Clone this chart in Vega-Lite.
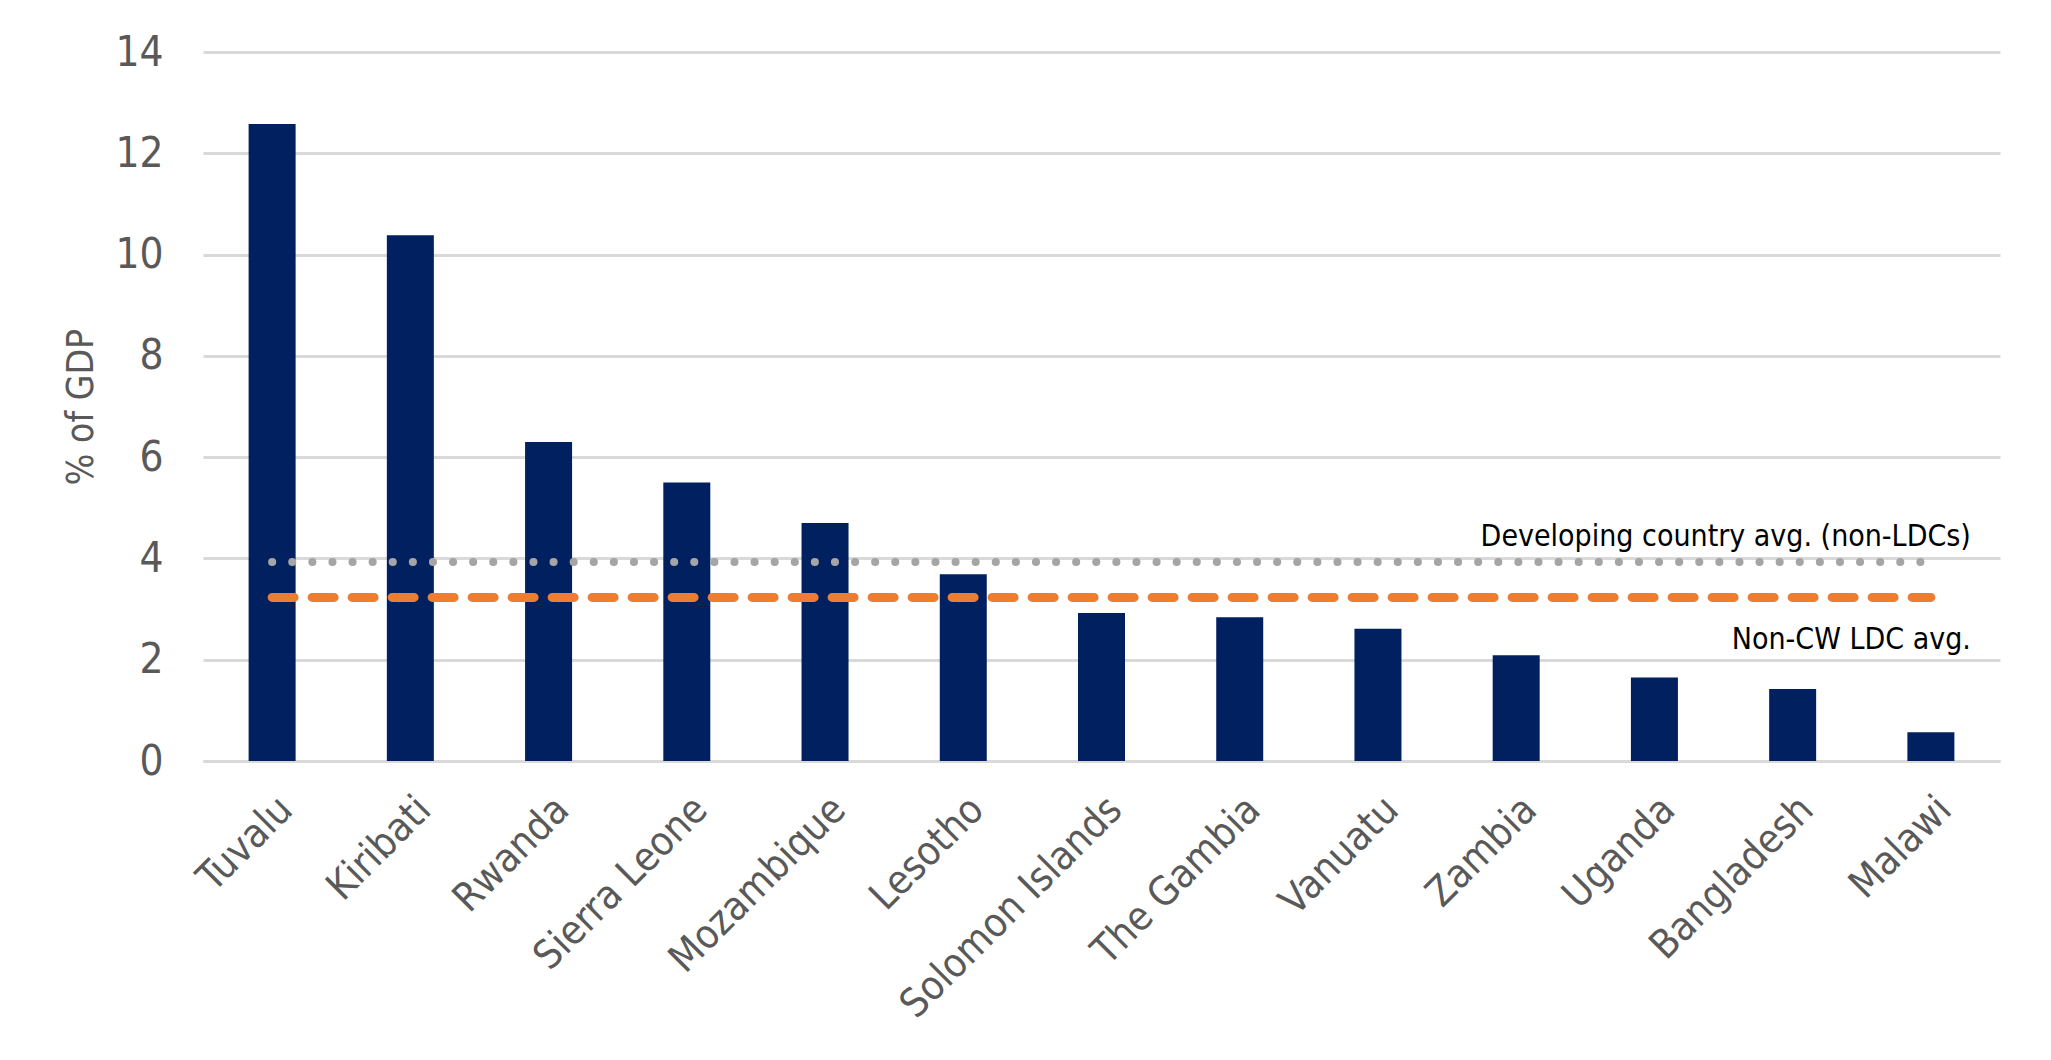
{
  "$schema": "https://vega.github.io/schema/vega-lite/v6.json",
  "width": 1797,
  "height": 709,
  "autosize": {"type": "none"},
  "padding": {"left": 203, "top": 52, "right": 51, "bottom": 299},
  "background": "white",
  "config": {
    "font": "DejaVu Sans Condensed, DejaVu Sans",
    "view": {"stroke": null}
  },
  "datasets": {
    "countries": [
      {"country": "Tuvalu", "pct": 12.58},
      {"country": "Kiribati", "pct": 10.38},
      {"country": "Rwanda", "pct": 6.3},
      {"country": "Sierra Leone", "pct": 5.5},
      {"country": "Mozambique", "pct": 4.7},
      {"country": "Lesotho", "pct": 3.69},
      {"country": "Solomon Islands", "pct": 2.92},
      {"country": "The Gambia", "pct": 2.84},
      {"country": "Vanuatu", "pct": 2.61},
      {"country": "Zambia", "pct": 2.09},
      {"country": "Uganda", "pct": 1.65},
      {"country": "Bangladesh", "pct": 1.42},
      {"country": "Malawi", "pct": 0.57}
    ],
    "averages": [
      {"series": "Developing country avg. (non-LDCs)", "value": 3.93, "start": "Tuvalu", "end": "Malawi"},
      {"series": "Non-CW LDC avg.", "value": 3.23, "start": "Tuvalu", "end": "Malawi"}
    ]
  },
  "layer": [
    {
      "data": {"name": "countries"},
      "mark": {"type": "bar", "color": "#002060"},
      "encoding": {
        "x": {
          "field": "country", "type": "nominal", "sort": null,
          "scale": {"paddingInner": 0.66, "paddingOuter": 0.33},
          "axis": {
            "title": null, "labelAngle": -45, "labelAlign": "right", "labelBaseline": "top",
            "labelFontSize": 40, "labelColor": "#595959", "labelPadding": 28, "labelLimit": 600,
            "ticks": false, "domainColor": "#D9D9D9", "domainWidth": 3
          }
        },
        "y": {
          "field": "pct", "type": "quantitative",
          "scale": {"domain": [0, 14]},
          "axis": {
            "title": "% of GDP", "titleFontSize": 37, "titleFontWeight": "normal", "titleColor": "#595959",
            "titlePadding": 14, "values": [0, 2, 4, 6, 8, 10, 12, 14],
            "labelFontSize": 42, "labelColor": "#595959", "labelPadding": 40,
            "ticks": false, "domain": false, "gridColor": "#D9D9D9", "gridWidth": 3
          }
        }
      }
    },
    {
      "data": {"name": "averages"},
      "transform": [{"filter": "datum.series == 'Developing country avg. (non-LDCs)'"}],
      "mark": {"type": "rule", "color": "#A5A5A5", "strokeWidth": 8, "strokeCap": "round", "strokeDash": [0.1, 20]},
      "encoding": {
        "x": {"field": "start", "type": "nominal", "sort": null},
        "x2": {"field": "end"},
        "y": {"field": "value", "type": "quantitative"}
      }
    },
    {
      "data": {"name": "averages"},
      "transform": [{"filter": "datum.series == 'Non-CW LDC avg.'"}],
      "mark": {"type": "rule", "color": "#ED7D31", "strokeWidth": 9, "strokeCap": "round", "strokeDash": [22, 18]},
      "encoding": {
        "x": {"field": "start", "type": "nominal", "sort": null},
        "x2": {"field": "end"},
        "y": {"field": "value", "type": "quantitative"}
      }
    },
    {
      "data": {"name": "averages"},
      "transform": [{"filter": "datum.series == 'Developing country avg. (non-LDCs)'"}],
      "mark": {"type": "text", "align": "right", "baseline": "middle", "dx": 40, "dy": -25, "fontSize": 30, "color": "#000000"},
      "encoding": {
        "x": {"field": "end", "type": "nominal", "sort": null},
        "y": {"field": "value", "type": "quantitative"},
        "text": {"field": "series"}
      }
    },
    {
      "data": {"name": "averages"},
      "transform": [{"filter": "datum.series == 'Non-CW LDC avg.'"}],
      "mark": {"type": "text", "align": "right", "baseline": "middle", "dx": 40, "dy": 43, "fontSize": 30, "color": "#000000"},
      "encoding": {
        "x": {"field": "end", "type": "nominal", "sort": null},
        "y": {"field": "value", "type": "quantitative"},
        "text": {"field": "series"}
      }
    }
  ]
}
